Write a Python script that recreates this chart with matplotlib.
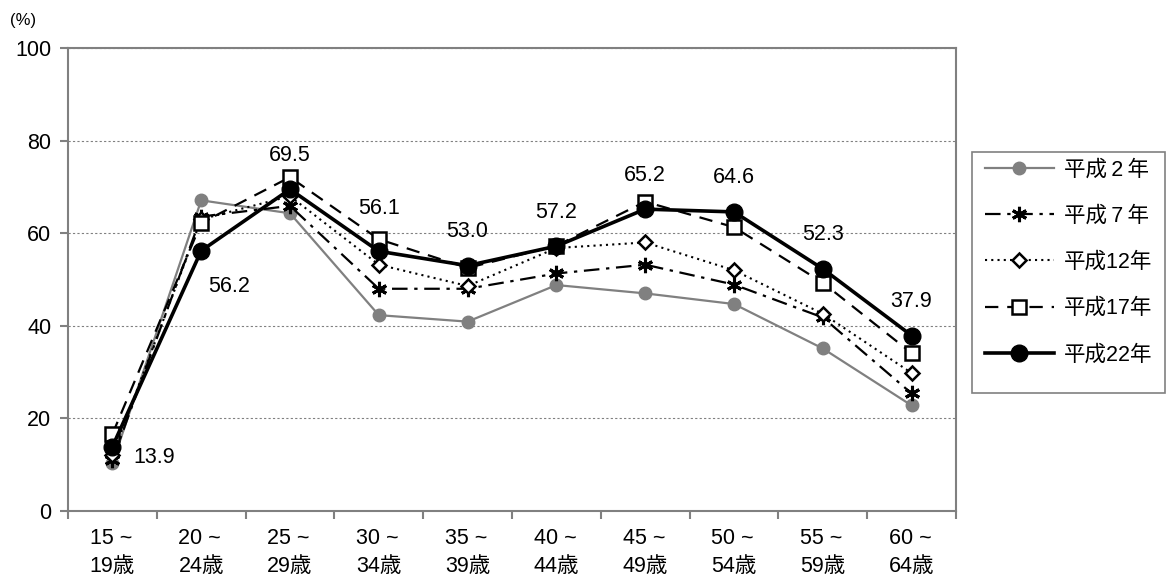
import matplotlib
matplotlib.use("Agg")
import matplotlib.pyplot as plt
from matplotlib.patches import Rectangle

plt.rcParams['font.family'] = ['Liberation Sans', 'Noto Sans CJK JP', 'DejaVu Sans']

age_groups = ["15 ~\n19歳", "20 ~\n24歳", "25 ~\n29歳", "30 ~\n34歳", "35 ~\n39歳",
              "40 ~\n44歳", "45 ~\n49歳", "50 ~\n54歳", "55 ~\n59歳", "60 ~\n64歳"]

h02 = [10.3, 67.1, 64.3, 42.3, 40.9, 48.8, 47.0, 44.7, 35.1, 22.8]
h07 = [11.0, 63.6, 65.9, 48.0, 48.0, 51.3, 53.2, 48.9, 41.8, 25.4]
h12 = [12.0, 63.0, 68.0, 53.2, 48.6, 56.8, 58.0, 52.0, 42.6, 29.8]
h17 = [16.6, 62.2, 72.1, 58.7, 52.5, 57.3, 66.8, 61.3, 49.3, 34.1]
h22 = [13.9, 56.2, 69.5, 56.1, 53.0, 57.2, 65.2, 64.6, 52.3, 37.9]

legend_labels = ["平成\u20092\u2009年", "平成\u20097\u2009年", "平成12年", "平成17年", "平成22年"]

FS = 15.5
W, H = 1168, 582

fig = plt.figure(figsize=(W / 100, H / 100), dpi=100)
ax = fig.add_axes([68 / W, 1 - 511 / H, (956 - 68) / W, (511 - 48) / H])

x = list(range(len(age_groups)))

l02, = ax.plot(x, h02, color='#808080', lw=1.6, marker='o', ms=9,
               mfc='#808080', mec='#808080', zorder=3)
l07, = ax.plot(x, h07, color='black', lw=1.6, ls=(0, (7, 3, 1.5, 3)),
               marker=(6, 2, 0), ms=11, mew=2.2, mec='black', zorder=3)
l12, = ax.plot(x, h12, color='black', lw=1.5, ls=(0, (1, 2)),
               marker='D', ms=7.5, mfc='white', mec='black', mew=1.8, zorder=4)
l17, = ax.plot(x, h17, color='black', lw=1.6, ls=(0, (6, 4)),
               marker='s', ms=10, mfc='white', mec='black', mew=1.8, zorder=5)
l22, = ax.plot(x, h22, color='black', lw=2.6, marker='o', ms=12,
               mfc='black', mec='black', zorder=6)

# value labels for the latest series
for i, v in enumerate(h22):
    if i == 0:
        ax.annotate(f"{v:.1f}", (i, v), xytext=(15, 0), textcoords='offset points',
                    ha='left', va='top', fontsize=FS)
    elif i == 1:
        ax.annotate(f"{v:.1f}", (i, v), xytext=(5, -18), textcoords='offset points',
                    ha='left', va='top', fontsize=FS)
    else:
        dy = 23 if i == 3 else 17
        ax.annotate(f"{v:.1f}", (i, v), xytext=(0, dy), textcoords='offset points',
                    ha='center', va='bottom', fontsize=FS)

ax.set_xlim(-0.5, len(age_groups) - 0.5)
ax.set_ylim(0, 100)
ax.set_yticks([0, 20, 40, 60, 80, 100])
ax.set_yticklabels(["0", "20", "40", "60", "80", "100"], fontsize=FS)
ax.set_xticks(x)
ax.set_xticklabels(age_groups, fontsize=FS, multialignment='left', linespacing=1.45)
ax.set_xticks([i - 0.5 for i in range(len(age_groups) + 1)], minor=True)
ax.tick_params(axis='x', which='major', length=0, pad=12)
ax.tick_params(axis='x', which='minor', length=6, color='#808080', width=1.5)
ax.tick_params(axis='y', length=6, color='#808080', width=1.5, pad=6)

ax.grid(axis='y', color='#808080', ls=(0, (2, 2)), lw=0.8)
ax.set_axisbelow(True)
for s in ax.spines.values():
    s.set_color('#808080')
    s.set_linewidth(1.5)

fig.text(10 / W, 1 - 20 / H, "(%)", fontsize=12, ha='left', va='center')

# legend box
fig.patches.append(Rectangle((972 / W, 1 - 393 / H), (1165 - 972) / W, (393 - 152) / H,
                             transform=fig.transFigure, fill=False,
                             edgecolor='#808080', lw=1.2))
leg = fig.legend([l02, l07, l12, l17, l22], legend_labels,
                 loc='upper left', bbox_to_anchor=(976 / W, 1 - 151 / H),
                 frameon=False, fontsize=FS, handlelength=3.2,
                 labelspacing=1.17, borderpad=0.4, handletextpad=0.5,
                 borderaxespad=0)

fig.savefig("out.png", dpi=100)
